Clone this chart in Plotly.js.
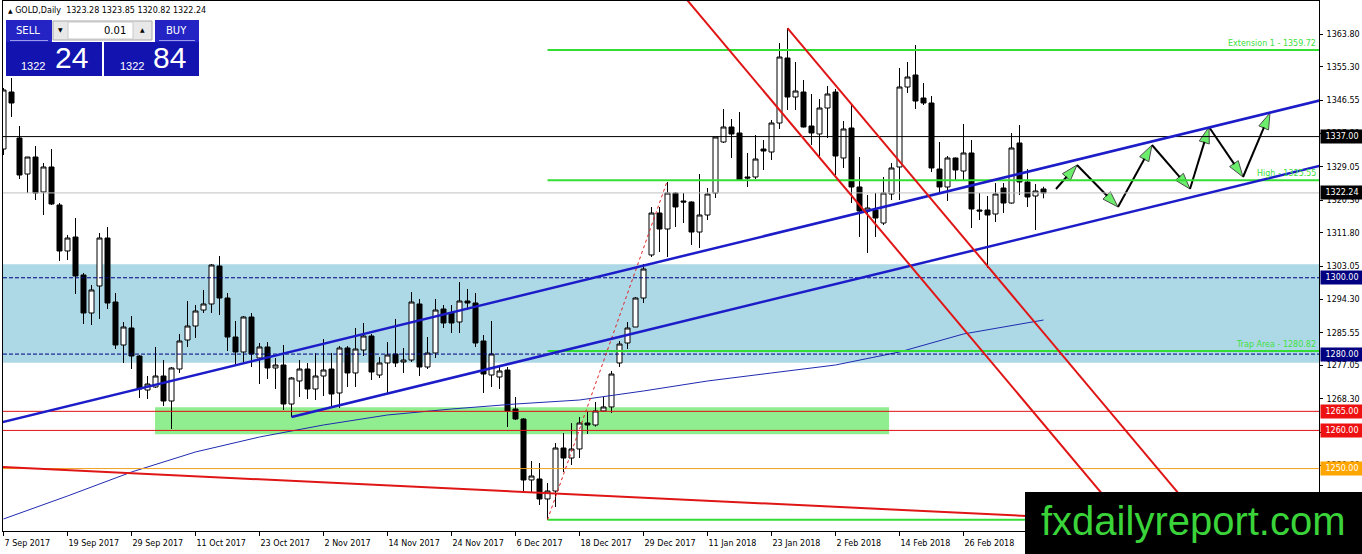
<!DOCTYPE html>
<html><head><meta charset="utf-8">
<script src="https://cdn.plot.ly/plotly-3.0.1.min.js"></script>
<style>html,body{margin:0;padding:0;background:#fff;}#chart{width:1362px;height:554px;}</style>
</head><body><div id="chart"></div>
<script>
// ---- Daily GOLD candles, 7 Sep 2017 .. 12 Mar 2018 (one per trading day) ----
const openP = [1333.74,1348.68,1336.63,1327.19,1331.65,1322.48,1329.03,1319.07,1307.02,1310.68,
1300.73,1290.77,1297.84,1310.42,1293.65,1282.38,1286.84,1279.50,1270.59,1271.38,
1274.26,1267.71,1276.09,1283.69,1287.36,1291.55,1293.13,1303.08,1294.70,1284.48,
1280.55,1289.72,1278.98,1281.86,1276.36,1277.14,1266.92,1272.95,1276.09,1270.85,
1274.26,1276.09,1269.80,1281.60,1275.05,1281.07,1284.74,1274.52,1277.67,1280.02,
1277.93,1278.45,1293.13,1276.62,1280.29,1291.82,1290.77,1288.41,1293.91,1293.39,
1283.43,1274.52,1274.00,1275.83,1265.61,1262.99,1247.01,1247.27,1242.03,1244.12,
1255.39,1252.77,1255.13,1261.94,1261.42,1265.09,1266.14,1277.67,1282.91,1287.10,
1294.70,1305.97,1316.97,1312.78,1322.21,1320.12,1319.86,1311.99,1316.45,1322.21,
1335.58,1339.51,1337.94,1326.41,1326.41,1333.74,1332.96,1340.56,1357.59,1347.37,
1348.68,1339.77,1337.68,1344.49,1348.68,1331.39,1339.25,1323.79,1317.50,1317.76,
1314.35,1321.95,1329.03,1349.99,1353.14,1347.11,1345.80,1328.50,1323.79,1331.39,
1327.98,1332.70,1317.76,1317.76,1316.71,1323.52,1319.59,1335.32,1325.10,1321.43,
1323.28];
const highP = [1349.73,1352.35,1339.77,1331.65,1334.53,1330.08,1333.74,1319.59,1311.21,1315.66,
1301.25,1298.11,1311.73,1313.30,1296.01,1288.41,1289.98,1279.76,1274.26,1281.86,
1278.45,1276.62,1285.27,1293.91,1292.86,1296.80,1303.61,1305.71,1296.01,1288.67,
1289.98,1290.77,1282.91,1283.17,1278.98,1282.38,1274.00,1278.45,1277.67,1280.29,
1283.95,1280.29,1282.12,1282.12,1286.84,1288.15,1285.27,1279.24,1283.17,1289.20,
1281.60,1296.27,1294.44,1284.48,1294.44,1292.86,1292.86,1298.89,1297.06,1296.01,
1285.00,1288.67,1276.62,1276.62,1268.76,1263.20,1251.98,1251.46,1246.22,1256.70,
1259.32,1261.94,1263.52,1265.09,1267.45,1268.76,1275.57,1283.43,1288.41,1294.96,
1303.61,1318.55,1318.55,1325.10,1322.48,1322.21,1320.00,1327.19,1323.52,1336.95,
1344.23,1341.61,1343.44,1332.70,1337.41,1336.10,1341.34,1361.52,1365.45,1356.54,
1351.83,1348.16,1346.85,1350.25,1349.47,1341.08,1345.27,1331.65,1321.69,1322.21,
1326.41,1330.08,1354.97,1356.54,1361.00,1351.04,1347.63,1335.58,1331.91,1331.50,
1340.30,1336.10,1322.21,1321.43,1324.83,1324.83,1337.94,1340.03,1328.50,1324.57,
1323.85];
const lowP = [1332.17,1342.13,1325.88,1322.21,1320.38,1316.45,1319.07,1304.39,1304.66,1295.75,
1287.89,1287.62,1289.20,1291.82,1281.33,1277.67,1276.09,1268.49,1268.23,1271.12,
1266.40,1260.37,1275.05,1281.86,1284.22,1290.77,1290.77,1290.24,1280.81,1277.14,
1277.93,1276.62,1272.16,1273.47,1270.85,1265.35,1263.52,1268.76,1268.23,1267.97,
1269.02,1266.40,1265.87,1271.38,1271.38,1279.50,1273.21,1273.74,1269.80,1276.62,
1275.05,1277.93,1274.26,1276.09,1278.98,1286.84,1285.53,1285.53,1291.55,1281.86,
1269.80,1271.38,1270.85,1260.89,1262.73,1243.86,1243.86,1240.45,1236.60,1239.93,
1249.10,1250.94,1252.77,1259.06,1261.00,1264.83,1264.56,1276.62,1281.33,1287.10,
1293.39,1305.44,1306.75,1305.44,1313.30,1314.35,1308.59,1307.80,1315.14,1320.90,
1335.32,1331.39,1325.50,1323.79,1325.88,1328.24,1330.86,1338.99,1343.96,1343.96,
1339.40,1334.79,1331.91,1336.63,1326.93,1328.77,1319.59,1310.68,1306.49,1310.68,
1313.83,1320.38,1320.38,1348.42,1344.23,1345.27,1327.72,1322.21,1320.12,1325.62,
1325.62,1313.04,1315.14,1302.56,1314.61,1316.97,1319.40,1321.69,1318.55,1312.52,
1320.82];
const closeP = [1349.21,1345.80,1326.93,1331.65,1322.21,1329.03,1319.33,1307.02,1310.42,1300.46,
1290.77,1296.80,1310.42,1293.39,1282.38,1287.10,1279.50,1270.85,1272.16,1274.26,
1267.71,1276.36,1283.43,1287.36,1291.29,1293.13,1303.35,1294.70,1284.48,1280.55,
1289.72,1280.02,1281.86,1276.36,1277.14,1266.92,1273.74,1276.09,1270.85,1274.26,
1275.83,1269.54,1281.60,1275.05,1281.33,1284.74,1275.31,1277.67,1279.76,1277.67,
1278.45,1293.65,1276.62,1280.29,1291.55,1288.15,1288.15,1293.91,1293.39,1282.91,
1274.78,1280.02,1275.57,1265.09,1262.99,1247.01,1248.05,1242.03,1244.12,1255.39,
1252.77,1255.13,1261.94,1261.42,1265.09,1266.14,1274.78,1282.64,1286.84,1294.70,
1302.30,1316.97,1312.78,1322.21,1318.55,1319.86,1311.99,1316.45,1321.95,1336.89,
1339.51,1337.68,1325.62,1326.15,1331.12,1333.22,1340.56,1357.85,1347.37,1348.94,
1339.51,1337.94,1344.49,1348.16,1331.91,1338.99,1323.79,1317.50,1318.28,1315.66,
1322.21,1328.77,1349.99,1352.61,1346.32,1345.80,1328.77,1323.79,1331.39,1328.24,
1332.70,1318.02,1317.50,1316.45,1321.95,1319.59,1334.01,1325.10,1321.17,1322.74,
1322.24];
const askPrice = 1322.84;

// date axis labels (every 8th bar)
const tickLabels = ['7 Sep 2017','19 Sep 2017','29 Sep 2017','11 Oct 2017','23 Oct 2017','2 Nov 2017',
  '14 Nov 2017','24 Nov 2017','6 Dec 2017','18 Dec 2017','29 Dec 2017','11 Jan 2018','23 Jan 2018',
  '2 Feb 2018','14 Feb 2018','26 Feb 2018'];
const tickBars = [0,8,16,24,32,40,48,56,64,72,80,88,96,104,112,120];
// price axis labels
const yTicks = [1363.80,1355.30,1346.55,1337.80,1329.05,1320.30,1311.80,1303.05,1294.30,1285.55,1277.05,1268.30,1259.55,1250.80];

// moving average (read at sample bars)
const maBars = [0,8,16,24,32,40,48,56,64,72,80,88,96,104,112,120,130];
const maVals = [1236.79,1242.81,1249.10,1254.35,1258.27,1261.42,1264.04,1265.61,1266.92,1267.97,1270.33,1272.95,1275.05,1277.14,1280.55,1285.27,1288.93];

// horizontal levels
const hLevels = [1337.00, 1300.00, 1280.00, 1265.00, 1260.00, 1250.00];
// fibonacci
const fibLevels = [1236.60, 1280.82, 1325.55, 1359.72];
const fibNames = ['', 'Trap Area', 'High', 'Extension 1'];
const fibStartBar = 68, fibHighBar = 83;
// zones
const blueZone = [1277.70, 1303.55];
const greenZoneBars = [18.94, 110.70];
const greenZone = [1259.00, 1266.05];
// trend lines: two anchor points [bar, price]
const chanUpper = [[0, 1262.23], [100, 1313.43]];
const chanLower = [[36, 1263.52], [136, 1314.72]];
const redChan1 = [[90, 1361.45], [140, 1236.70]];
const redChan2 = [[98, 1365.45], [140, 1260.66]];
const redBase = [[0, 1250.38], [160, 1234.38]];
// projected zig-zag path
const pathBars = [131.56, 134.19, 139.31, 143.56, 148.31, 150.69, 154.94, 158.31];
const pathPrices = [1323.26, 1329.55, 1318.55, 1334.79, 1323.26, 1339.51, 1326.41, 1343.18];

// ---------------------------------------------------------------
const N = closeP.length, last = N - 1;
const bars = closeP.map((_, i) => i);
const PL = 3, PT = 1, PW = 1316, PH = 530;
const px = x => (x - PL) / PW;
const py = y => (PT + PH - y) / PH;
const FONT = 'DejaVu Sans';
const at = (ln, x) => ln[0][1] + (ln[1][1] - ln[0][1]) * (x - ln[0][0]) / (ln[1][0] - ln[0][0]);
const f2 = v => v.toFixed(2);

const traces = [
  {type:'scatter', mode:'lines', x: maBars, y: maVals, line:{color:'#1f2bb0', width:1}, hoverinfo:'skip'},
  {type:'candlestick', x: bars, open: openP, high: highP, low: lowP, close: closeP,
   whiskerwidth: 0, hoverinfo:'skip',
   increasing:{line:{color:'#000', width:1}, fillcolor:'#ffffff'},
   decreasing:{line:{color:'#000', width:1}, fillcolor:'#000000'}},
  {type:'scatter', mode:'lines+markers', x: pathBars, y: pathPrices, hoverinfo:'skip',
   line:{color:'#000', width:2},
   marker:{symbol:'arrow', angleref:'previous', size: pathBars.map((_, i) => i === 0 ? 0 : 17),
           color:'#2ee62e', line:{color:'#000', width:1}}}
];

const shapes = [];
// background zones
shapes.push({type:'rect', layer:'below', xref:'paper', x0:0, x1:1, yref:'y', y0:blueZone[0], y1:blueZone[1], fillcolor:'#add8e6', line:{width:0}});
shapes.push({type:'rect', layer:'below', xref:'x', x0:greenZoneBars[0], x1:greenZoneBars[1], yref:'y', y0:greenZone[0], y1:greenZone[1], fillcolor:'#90ee90', line:{width:0}});
// horizontal lines
const hStyle = [
  {color:'#000000', width:1, dash:'solid'},
  {color:'#000080', width:1, dash:'4px,2px'},
  {color:'#000080', width:1, dash:'4px,2px'},
  {color:'#e01010', width:1, dash:'solid'},
  {color:'#e01010', width:1, dash:'solid'},
  {color:'#f0a020', width:1, dash:'solid'}];
hLevels.forEach((v, i) => shapes.push({type:'line', layer:'above', xref:'paper', x0:0, x1:1, yref:'y', y0:v, y1:v, line:hStyle[i]}));
shapes.push({type:'line', layer:'above', xref:'paper', x0:0, x1:1, yref:'y', y0:closeP[last], y1:closeP[last], line:{color:'#c0c0c0', width:1}});
// fibonacci levels
const XR = 170;
fibLevels.forEach(v => shapes.push({type:'line', layer:'above', xref:'x', x0:fibStartBar, x1:XR, yref:'y', y0:v, y1:v, line:{color:'#33dd33', width:2}}));
shapes.push({type:'line', layer:'above', xref:'x', x0:fibStartBar, x1:fibHighBar, yref:'y', y0:fibLevels[0], y1:fibLevels[2], line:{color:'#e02020', width:1, dash:'dot'}});
// trend lines
const seg = (ln, xa, xb, color, width) => shapes.push({type:'line', layer:'above', xref:'x', yref:'y', x0:xa, y0:at(ln, xa), x1:xb, y1:at(ln, xb), line:{color, width}});
seg(redBase, -2, XR, '#e01515', 2);
seg(chanUpper, -2, XR, '#1c1cc8', 2.5);
seg(chanLower, chanLower[0][0], XR, '#1c1cc8', 2.5);
seg(redChan1, 80, XR, '#e01515', 2);
seg(redChan2, redChan2[0][0], XR, '#e01515', 2);

// trading panel (screen furniture)
const rectPx = (x0, y0, x1, y1, fill, lineC) => shapes.push({type:'rect', layer:'above', xref:'paper', yref:'paper',
  x0:px(x0), x1:px(x1), y0:py(y1), y1:py(y0), fillcolor:fill, line: lineC ? {color:lineC, width:1} : {width:0}});
rectPx(6, 20, 52, 42, '#2424c4');
rectPx(155, 20, 199, 42, '#2424c4');
rectPx(53, 21, 152, 40, '#e8e8e8', '#a8a8a8');
rectPx(68, 22, 133, 39, '#ffffff', '#c8c8c8');
rectPx(6, 42, 102, 76, '#1313b0');
rectPx(104, 42, 199, 76, '#1313b0');
shapes.push({type:'line', layer:'above', xref:'paper', yref:'paper', x0:px(10), x1:px(48), y0:py(40.5), y1:py(40.5), line:{color:'#9a9ae8', width:1}});
shapes.push({type:'line', layer:'above', xref:'paper', yref:'paper', x0:px(159), x1:px(195), y0:py(40.5), y1:py(40.5), line:{color:'#9a9ae8', width:1}});
// watermark box
shapes.push({type:'rect', layer:'above', xref:'paper', yref:'paper', x0:px(1025), x1:px(1370), y0:py(560), y1:py(492), fillcolor:'#000', line:{width:0}});

const annotations = [];
const T = (text, x, y, size, color, extra) => annotations.push(Object.assign({text, xref:'paper', yref:'paper', x:px(x), y:py(y),
  showarrow:false, xanchor:'center', yanchor:'middle', font:{family:FONT, size, color}}, extra || {}));
T('<span style="font-size:6px">▲</span> GOLD,Daily  ' + [openP[last], highP[last], lowP[last], closeP[last]].map(f2).join(' '), 6, 10.5, 8, '#000', {xanchor:'left'});
T('SELL', 28, 30.5, 10, '#fff');
T('BUY', 176, 30.5, 10, '#fff');
T('▼', 60.5, 30, 6, '#000');
T('▲', 142.5, 30, 6, '#000');
T('0.01', 128, 30.5, 10, '#000', {xanchor:'right'});
const bidTxt = f2(closeP[last]), askTxt = f2(askPrice);
T(bidTxt.slice(0, 4), 33, 66, 11, '#fff', {font:{family:'Liberation Sans', size:11, color:'#fff'}});
T(bidTxt.slice(5), 71, 58, 29, '#fff', {font:{family:'Liberation Sans', size:30, color:'#fff'}});
T(askTxt.slice(0, 4), 132, 66, 11, '#fff', {font:{family:'Liberation Sans', size:11, color:'#fff'}});
T(askTxt.slice(5), 169, 58, 29, '#fff', {font:{family:'Liberation Sans', size:30, color:'#fff'}});
T('fxdailyreport.com', 1193, 521, 40, '#3ad43a', {font:{family:'Liberation Sans', size:40, color:'#3ad43a'}});

// fibonacci labels
fibLevels.forEach((v, i) => { if (fibNames[i]) annotations.push({text: fibNames[i] + ' - ' + f2(v), xref:'paper', x:1, xanchor:'right', xshift:-1,
  yref:'y', y:v, yanchor:'bottom', yshift:0, showarrow:false, font:{family:FONT, size:8, color:'#40e040'}}); });

// right price tags
const tagBg = ['#000000', '#000080', '#000080', '#ee1111', '#ee1111', '#ffa500'];
const tag = (v, bg) => annotations.push({text: f2(v), xref:'paper', x:1, xanchor:'left', xshift:1, yref:'y', y:v, yanchor:'middle',
  showarrow:false, bgcolor:bg, borderpad:2, width:38, font:{family:FONT, size:8, color:'#fff'}});
hLevels.forEach((v, i) => tag(v, tagBg[i]));
tag(closeP[last], '#000000');

const layout = {
  width:1362, height:554, autosize:false,
  margin:{l:PL, r:1362 - PL - PW, t:PT, b:554 - PT - PH, pad:0, autoexpand:false},
  paper_bgcolor:'#fff', plot_bgcolor:'#fff', showlegend:false,
  boxgap:0.375, boxgroupgap:0,
  xaxis:{type:'linear', range:[(PL - 3.5) / 8, (PL + PW - 3.5) / 8], showgrid:false, zeroline:false,
    showline:true, mirror:true, linecolor:'#000', linewidth:1,
    tickmode:'array', tickvals:tickBars, ticktext:tickLabels, ticks:'outside', ticklen:4, tickcolor:'#000',
    ticklabelposition:'outside right', ticklabelstandoff:4, tickfont:{family:FONT, size:8, color:'#000'},
    rangeslider:{visible:false}, fixedrange:true},
  yaxis:{side:'right', range:[1233.64, 1372.53], showgrid:false, zeroline:false,
    showline:true, mirror:true, linecolor:'#000', linewidth:1,
    tickmode:'array', tickvals:yTicks, ticktext:yTicks.map(f2), ticks:'outside', ticklen:3, tickcolor:'#000',
    ticklabelstandoff:2, tickfont:{family:FONT, size:8, color:'#000'}, fixedrange:true},
  shapes, annotations
};
Plotly.newPlot('chart', traces, layout, {displayModeBar:false, staticPlot:true});
</script>
</body></html>
